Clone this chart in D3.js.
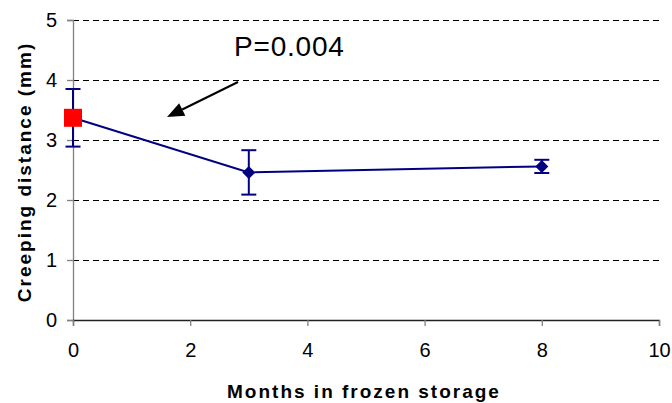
<!DOCTYPE html>
<html>
<head>
<meta charset="utf-8">
<script src="https://cdn.jsdelivr.net/npm/d3@7"></script>
<style>
  html, body { margin: 0; padding: 0; background: #fff; }
  svg { display: block; font-family: "Liberation Sans", Arial, sans-serif; }
</style>
</head>
<body>
<svg id="chart" width="672" height="403"></svg>
<script>
// Creeping distance after frozen storage
const months = [0, 3, 8];
const meanDistance = [3.37, 2.46, 2.56];
const errorHalf = [0.48, 0.37, 0.11];
const xTicks = [0, 2, 4, 6, 8, 10];
const yTicks = [0, 1, 2, 3, 4, 5];
const pLabel = "P=0.004";

const svg = d3.select("#chart");
const x = d3.scaleLinear().domain([0, 10]).range([73, 659]);
const y = d3.scaleLinear().domain([0, 5]).range([320, 20]);

const navy = "#000080";

// dashed gridlines
svg.append("g").selectAll("line")
  .data(yTicks.filter(d => d > 0))
  .join("line")
  .attr("x1", x(0)).attr("x2", x(10))
  .attr("y1", d => y(d)).attr("y2", d => y(d))
  .attr("stroke", "#000").attr("stroke-width", 1)
  .attr("stroke-dasharray", "6,4")
  .attr("shape-rendering", "crispEdges");

// axes
const yAxis = svg.append("g")
  .attr("transform", `translate(${x(0)},0)`)
  .call(d3.axisLeft(y).tickValues(yTicks).tickSize(6).tickPadding(10).tickFormat(d3.format("d")));
const xAxis = svg.append("g")
  .attr("transform", `translate(0,${y(0)})`)
  .call(d3.axisBottom(x).tickValues(xTicks).tickSize(6).tickPadding(17).tickFormat(d3.format("d")));

[yAxis, xAxis].forEach(g => {
  g.select(".domain").attr("stroke", "#808080").attr("stroke-width", 1.3);
  g.selectAll(".tick line").attr("stroke", "#808080").attr("stroke-width", 1.3);
  g.selectAll(".tick text").attr("fill", "#000").style("font-size", "20px")
    .style("font-family", "Liberation Sans, Arial, sans-serif");
});
xAxis.select(".domain").attr("stroke", "#222");

// connecting line
const pts = months.map((m, i) => ({ m, v: meanDistance[i], e: errorHalf[i] }));
svg.append("path")
  .datum(pts)
  .attr("fill", "none")
  .attr("stroke", navy)
  .attr("stroke-width", 2)
  .attr("d", d3.line().x(d => x(d.m)).y(d => y(d.v)));

// error bars
const eb = svg.append("g").attr("stroke", navy).attr("stroke-width", 2);
pts.forEach(d => {
  eb.append("line").attr("x1", x(d.m)).attr("x2", x(d.m))
    .attr("y1", y(d.v + d.e)).attr("y2", y(d.v - d.e));
  [d.v + d.e, d.v - d.e].forEach(v => {
    eb.append("line").attr("x1", x(d.m) - 7.5).attr("x2", x(d.m) + 7.5)
      .attr("y1", y(v)).attr("y2", y(v));
  });
});

// markers: red square for fresh sample, navy diamonds otherwise
pts.forEach((d, i) => {
  if (i === 0) {
    svg.append("rect")
      .attr("x", x(d.m) - 9).attr("y", y(d.v) - 9)
      .attr("width", 18).attr("height", 18)
      .attr("fill", "#ff0000");
  } else {
    svg.append("path")
      .attr("transform", `translate(${x(d.m)},${y(d.v)})`)
      .attr("d", "M0,-6.5L6.5,0L0,6.5L-6.5,0Z")
      .attr("fill", navy);
  }
});

// annotation arrow (solid triangular head) and p-value
const ax0 = 238, ay0 = 82, ax1 = 167, ay1 = 117;
const ang = Math.atan2(ay1 - ay0, ax1 - ax0);
const hl = 17, hw = 7;
const bx = ax1 - hl * Math.cos(ang), by = ay1 - hl * Math.sin(ang);
svg.append("line")
  .attr("x1", ax0).attr("y1", ay0).attr("x2", bx).attr("y2", by)
  .attr("stroke", "#000").attr("stroke-width", 2);
svg.append("path")
  .attr("d", `M${ax1},${ay1}L${bx - hw * Math.sin(ang)},${by + hw * Math.cos(ang)}L${bx + hw * Math.sin(ang)},${by - hw * Math.cos(ang)}Z`)
  .attr("fill", "#000");

svg.append("text")
  .attr("x", 234).attr("y", 56)
  .style("font-size", "28px")
  .style("letter-spacing", "0.8px")
  .text(pLabel);

// axis titles
svg.append("text")
  .attr("x", 364).attr("y", 398)
  .attr("text-anchor", "middle")
  .style("font-size", "19px").style("font-weight", "bold")
  .style("letter-spacing", "2px")
  .text("Months in frozen storage");
svg.append("text")
  .attr("transform", "translate(31,172) rotate(-90)")
  .attr("text-anchor", "middle")
  .style("font-size", "19px").style("font-weight", "bold")
  .style("letter-spacing", "2px")
  .text("Creeping distance (mm)");
</script>
</body>
</html>
